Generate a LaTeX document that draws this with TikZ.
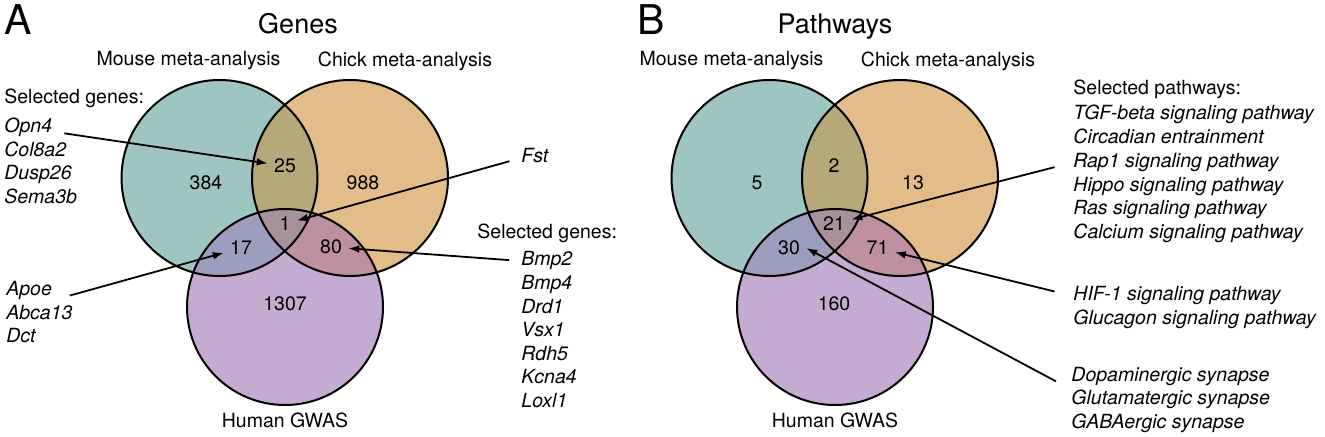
\documentclass[tikz,border=0pt]{standalone}
\usepackage{fontspec}
\setmainfont{TeX Gyre Heros}
\usetikzlibrary{arrows.meta}

\definecolor{mousecol}{RGB}{158,197,194}
\definecolor{chickcol}{RGB}{226,189,137}
\definecolor{humancol}{RGB}{197,170,210}
\definecolor{mccol}{RGB}{182,168,121}
\definecolor{mhcol}{RGB}{158,157,190}
\definecolor{chcol}{RGB}{191,144,159}
\definecolor{allcol}{RGB}{169,145,156}

\tikzset{
  lbl/.style={font=\fontsize{9.75}{11.7}\selectfont, inner sep=0pt, anchor=base},
  item/.style={font=\fontsize{9.75}{11.7}\selectfont\itshape, inner sep=0pt,
    anchor=base west, text height=7pt, text depth=2pt},
  num/.style={font=\fontsize{9.75}{11.7}\selectfont, inner sep=3pt},
  ttl/.style={font=\fontsize{13.5}{16}\selectfont, inner sep=0pt, anchor=base},
  panel/.style={font=\fontsize{20.5}{24}\selectfont, inner sep=0pt, anchor=base west},
  ring/.style={draw=black, line width=1pt},
  arr/.style={-{Latex[length=5.5pt,width=3.8pt]}, line width=0.9pt},
}

\begin{document}
\begin{tikzpicture}[x=0.5pt,y=-0.5pt]
\useasboundingbox (0,0) rectangle (1325,437);

% the two venn diagrams
\foreach \dx in {0,550} {
  \fill[mousecol] (219.5+\dx,178) circle[radius=49pt];
  \fill[chickcol] (350+\dx,178) circle[radius=49pt];
  \fill[humancol] (285+\dx,307) circle[radius=49pt];
  \begin{scope}
    \clip (350+\dx,178) circle[radius=49pt];
    \fill[chcol] (285+\dx,307) circle[radius=49pt];
  \end{scope}
  \begin{scope}
    \clip (219.5+\dx,178) circle[radius=49pt];
    \fill[mccol] (350+\dx,178) circle[radius=49pt];
    \fill[mhcol] (285+\dx,307) circle[radius=49pt];
    \clip (350+\dx,178) circle[radius=49pt];
    \fill[allcol] (285+\dx,307) circle[radius=49pt];
  \end{scope}
  \draw[ring] (219.5+\dx,178) circle[radius=49pt];
  \draw[ring] (350+\dx,178) circle[radius=49pt];
  \draw[ring] (285+\dx,307) circle[radius=49pt];
}

% panel A
\node[panel] (pa) at (4,35) {A};
\node[ttl] (genes) at (298,34) {Genes};
\node[lbl] (mouseA) at (188.5,66) {Mouse meta-analysis};
\node[lbl] (chickA) at (405,67) {Chick meta-analysis};
\node[lbl] (humanA) at (285,427) {Human GWAS};

\node[num] (n384) at (206,183) {384};
\node[num] (n25) at (285,166) {25};
\node[num] (n988) at (363,183) {988};
\node[num] (n1) at (285,224) {1};
\node[num] (n17) at (241,248) {17};
\node[num] (n80) at (331,247) {80};
\node[num] (n1307) at (285,304) {1307};

\node[lbl, anchor=base west] (selgA) at (4,104) {Selected genes:};
\foreach \g [count=\i] in {Opn4,Col8a2,Dusp26,Sema3b}
  \node[item] (ga\i) at (4,{109.6+23.4*\i}) {\g};
\node[item] (fst) at (521,163) {Fst};
\node[lbl, anchor=base west] (selgB) at (477,239) {Selected genes:};
\foreach \g [count=\i] in {Bmp2,Bmp4,Drd1,Vsx1,Rdh5,Kcna4,Loxl1}
  \node[item] (gb\i) at (521,{242.4+23.6*\i}) {\g};
\foreach \g [count=\i] in {Apoe,Abca13,Dct}
  \node[item] (gc\i) at (6,{272.5+23.5*\i}) {\g};

\draw[arr, shorten <=6pt] (ga1) -- (n25);
\draw[arr, shorten <=6pt] (fst.west) -- (n1);
\draw[arr, shorten <=6pt] (gb1.west) -- (n80);
\draw[arr, shorten <=9pt] (gc1.south east) -- (n17);

% panel B
\node[panel] (pb) at (637,35) {B};
\node[ttl] (paths) at (835,34) {Pathways};
\node[lbl] (mouseB) at (731.5,66) {Mouse meta-analysis};
\node[lbl] (chickB) at (948,67) {Chick meta-analysis};
\node[lbl] (humanB) at (835,427) {Human GWAS};

\node[num] (n5) at (757,183) {5};
\node[num] (n2) at (834,166) {2};
\node[num] (n13) at (913,183) {13};
\node[num] (n21) at (834,224) {21};
\node[num] (n30) at (789,248) {30};
\node[num] (n71) at (877.5,248) {71};
\node[num] (n160) at (834,304) {160};

\node[lbl, anchor=base west] (selp) at (1073,95) {Selected pathways:};
\foreach \p [count=\i] in {TGF-beta signaling pathway,Circadian entrainment,
    Rap1 signaling pathway,Hippo signaling pathway,Ras signaling pathway,
    Calcium signaling pathway}
  \node[item] (pa\i) at (1073,{96.3+23.7*\i}) {\p};
\foreach \p [count=\i] in {HIF-1 signaling pathway,Glucagon signaling pathway}
  \node[item] (pb\i) at (1073,{277.5+23.5*\i}) {\p};
\foreach \p [count=\i] in {Dopaminergic synapse,Glutamatergic synapse,GABAergic synapse}
  \node[item] (pc\i) at (1071,{357.5+23.5*\i}) {\p};

\draw[arr, shorten <=9.5pt] (pa3.west) -- (n21);
\draw[arr, shorten <=9.5pt] (pb1.west) -- (n71);
\draw[arr, shorten <=8.5pt] ([yshift=-2pt]pc1.south west) -- (n30.east);
\end{tikzpicture}
\end{document}
